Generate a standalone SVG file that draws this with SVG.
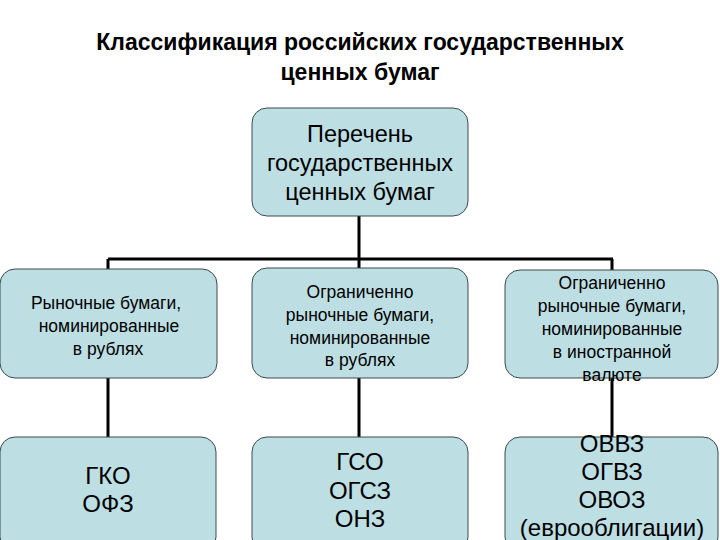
<svg xmlns="http://www.w3.org/2000/svg" width="720" height="540" viewBox="0 0 720 540">
<style>
.box{fill:#bddfe3;stroke:#3a4a4c;stroke-width:1}
.t{font-family:"Liberation Sans",Arial,sans-serif;fill:#000;text-anchor:middle}
.h{font-size:23px;font-weight:bold}
.big{font-size:23.5px}
.mid{font-size:17.5px}
.lg{font-size:24px}
.ln{stroke:#000;stroke-width:3;fill:none}
</style>
<rect width="720" height="540" fill="#fff"/>
<g id="title">
<text class="t h" x="360" y="50">Классификация российских государственных</text>
<text class="t h" x="360" y="80">ценных бумаг</text>
</g>
<g id="connectors">
<path class="ln" d="M359 216V259M108 259H613M108 259V270M359 259V268M612 259V270"/>
<path class="ln" d="M108 378V437M359 378V437M612 378V437"/>
</g>
<g id="root">
<rect class="box" x="252" y="108" width="216" height="108" rx="15"/>
<text class="t big" x="360" y="142">Перечень</text>
<text class="t big" x="360" y="171">государственных</text>
<text class="t big" x="360" y="200">ценных бумаг</text>
</g>
<g id="n1">
<rect class="box" x="0" y="269" width="217" height="109" rx="15"/>
<text class="t mid" x="106" y="309">Рыночные бумаги,</text>
<text class="t mid" x="109" y="332">номинированные</text>
<text class="t mid" x="108" y="355">в рублях</text>
</g>
<g id="n2">
<rect class="box" x="252" y="268" width="216" height="110" rx="15"/>
<text class="t mid" x="360" y="298">Ограниченно</text>
<text class="t mid" x="360" y="321">рыночные бумаги,</text>
<text class="t mid" x="360" y="344">номинированные</text>
<text class="t mid" x="360" y="366">в рублях</text>
</g>
<g id="n3">
<rect class="box" x="505" y="270" width="213" height="108" rx="15"/>
<text class="t mid" x="612" y="289">Ограниченно</text>
<text class="t mid" x="612" y="312">рыночные бумаги,</text>
<text class="t mid" x="612" y="335">номинированные</text>
<text class="t mid" x="612" y="358">в иностранной</text>
<text class="t mid" x="612" y="381">валюте</text>
</g>
<g id="n4">
<rect class="box" x="0" y="437" width="216" height="115" rx="15"/>
<text class="t lg" x="108" y="484">ГКО</text>
<text class="t lg" x="108" y="512">ОФЗ</text>
</g>
<g id="n5">
<rect class="box" x="252" y="437" width="216" height="115" rx="15"/>
<text class="t lg" x="360" y="470">ГСО</text>
<text class="t lg" x="360" y="499">ОГСЗ</text>
<text class="t lg" x="360" y="527">ОНЗ</text>
</g>
<g id="n6">
<rect class="box" x="505" y="437" width="213" height="115" rx="15"/>
<text class="t lg" x="612" y="452">ОВВЗ</text>
<text class="t lg" x="612" y="480">ОГВЗ</text>
<text class="t lg" x="612" y="508">ОВОЗ</text>
<text class="t lg" x="612" y="536">(еврооблигации)</text>
</g>
</svg>
